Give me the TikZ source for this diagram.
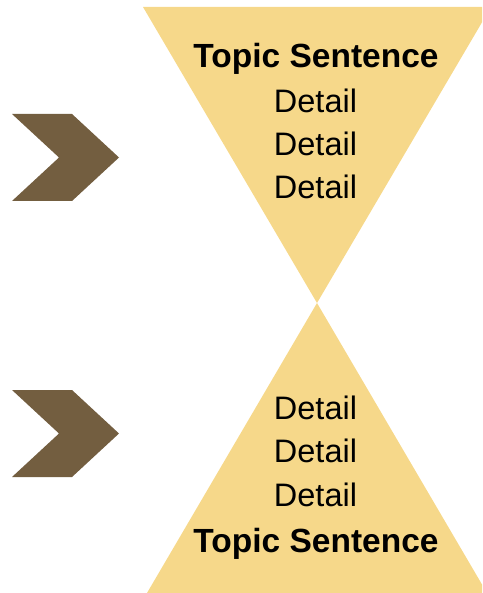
\documentclass[tikz,border=0pt]{standalone}
\usepackage{fontspec}
\setmainfont{Liberation Sans}
\definecolor{chev}{HTML}{735E40}
\definecolor{funnel}{HTML}{F6D88A}
\begin{document}
\begin{tikzpicture}[x=1pt,y=-1pt,
  txt/.style={anchor=base,inner sep=0pt,font=\fontsize{32.5}{38}\selectfont},
  bold/.style={txt,font=\fontsize{33.5}{38}\selectfont\bfseries},
  chevshape/.style={fill=chev,draw=none},
  tri/.style={fill=funnel,draw=none}]
\useasboundingbox (0,0) rectangle (482,593);
\clip (0,0) rectangle (482,593);
% funnel triangles
\coordinate (apex) at (317,303);
\fill[tri] (143,7) -- (491,7) -- (apex) -- cycle;
\fill[tri] (apex) -- (487,593) -- (147,593) -- cycle;
% chevrons
\fill[chevshape] (12,114) -- (72,114) -- (119,157.5) -- (72,201) -- (12,201) -- (59,157.5) -- cycle;
\fill[chevshape] (12,390) -- (72,390) -- (119,433.5) -- (72,477) -- (12,477) -- (59,433.5) -- cycle;
% texts
\node[bold] (t1) at (316,68) {Topic Sentence};
\node[txt] (d1) at (315.5,113) {Detail};
\node[txt] (d2) at (315.5,156) {Detail};
\node[txt] (d3) at (315.5,199) {Detail};
\node[txt] (d4) at (315.5,419) {Detail};
\node[txt] (d5) at (315.5,462) {Detail};
\node[txt] (d6) at (315.5,506) {Detail};
\node[bold] (t2) at (316,552) {Topic Sentence};
\end{tikzpicture}
\end{document}
